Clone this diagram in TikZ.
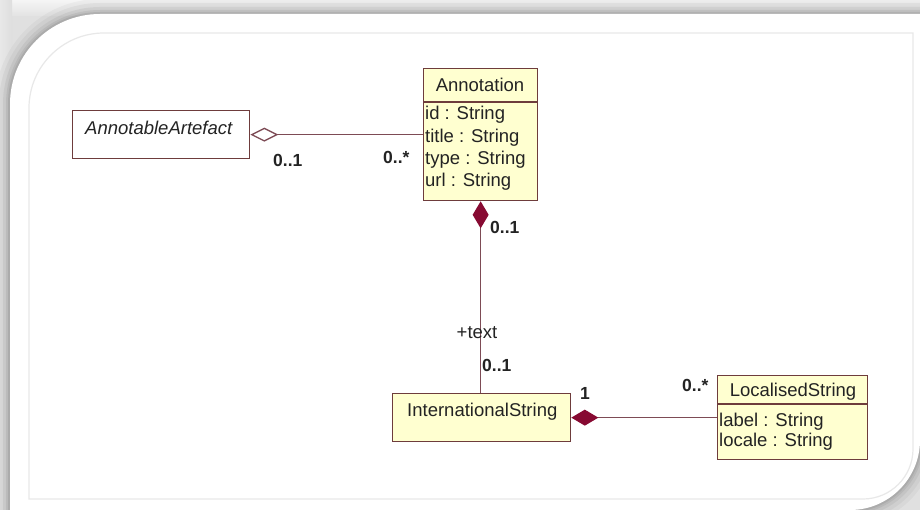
\documentclass[tikz,border=0pt]{standalone}
\usepackage{fontspec}
\setmainfont{Liberation Sans}
\usetikzlibrary{arrows.meta}
\definecolor{boxfill}{RGB}{255,255,208}
\definecolor{boxline}{RGB}{110,60,60}
\definecolor{conn}{RGB}{125,75,85}
\definecolor{dia}{RGB}{135,10,50}
\definecolor{bggray}{RGB}{224,224,224}
\definecolor{innerline}{RGB}{232,232,232}
\definecolor{txt}{RGB}{35,35,35}
\tikzset{
  umlbox/.style={draw=boxline, fill=boxfill, line width=1.3pt, inner sep=0pt, anchor=north west},
  plainbox/.style={draw=boxline, fill=white, line width=1.3pt, inner sep=0pt, anchor=north west},
  lbl/.style={font=\fontsize{18.5}{22}\selectfont, text=txt, inner sep=0pt},
  mult/.style={font=\bfseries\fontsize{17.5}{20}\selectfont, text=txt, inner sep=0pt, anchor=west},
  attr/.style={lbl, anchor=west},
  assoc/.style={draw=conn, line width=1.3pt},
  aggr/.style={assoc, {Diamond[open, length=28pt, width=14pt, fill=white, line width=1.3pt]}-},
  compo/.style={assoc, {Diamond[length=27pt, width=16pt, fill=dia, color=dia]}-}
}
\begin{document}
\begin{tikzpicture}[x=1pt,y=-1pt]
\useasboundingbox (0,0) rectangle (920,510);
% background
\fill[bggray] (0,0) rectangle (920,510);
\shade[top color=gray!8, bottom color=gray!22] (0,0) rectangle (920,16);
\shade[left color=gray!18, right color=gray!26] (0,0) rectangle (12,510);
% soft shadow of white panel
\foreach \w/\o in {30/0.03, 22/0.04, 14/0.05, 8/0.06, 4/0.07}{
  \draw[black, line width=\w pt, opacity=\o] (10,530) -- (10,104) .. controls (10,54.3) and (50.3,14) .. (100,14) -- (940,14);
  \draw[black, line width=\w pt, opacity=\o] (940,440) -- (920,440) .. controls (920,478.6) and (888.6,510) .. (850,510) -- (850,530);
}
\fill[white] (10,515) -- (10,104) .. controls (10,54.3) and (50.3,14) .. (100,14) -- (925,14) -- (925,440) -- (920,440) .. controls (920,478.6) and (888.6,510) .. (850,510) -- (850,515) -- cycle;
% inner frame
\draw[innerline, line width=1.2pt] (29,499) -- (29,108) .. controls (29,66.6) and (62.6,33) .. (104,33) -- (913,33) -- (913,449) .. controls (913,476.6) and (890.6,499) .. (863,499) -- cycle;

% AnnotableArtefact
\node[plainbox, minimum width=177pt, minimum height=48pt] (aa) at (72,110) {};
\node[attr, font=\itshape\fontsize{18.5}{22}\selectfont] (aat) at (85,128) {AnnotableArtefact};

% Annotation
\node[umlbox, minimum width=114pt, minimum height=132pt] (ann) at (423,68) {};
\draw[boxline, line width=1.3pt] (ann.west |- 0,102) -- (ann.east |- 0,102);
\node[lbl] (annh) at (480,85) {Annotation};
\node[attr] (a1) at (425,115) {id : String};
\node[attr] (a2) at (425,138) {title : String};
\node[attr] (a3) at (425,160) {type : String};
\node[attr] (a4) at (425,182) {url : String};

% InternationalString
\node[umlbox, minimum width=178pt, minimum height=48pt] (is) at (392,393) {};
\node[attr] (ist) at (407,412) {InternationalString};

% LocalisedString
\node[umlbox, minimum width=150pt, minimum height=84pt] (ls) at (717,375) {};
\draw[boxline, line width=1.3pt] (ls.west |- 0,404) -- (ls.east |- 0,404);
\node[lbl] (lsh) at (793,392) {LocalisedString};
\node[attr] (l1) at (719,422) {label : String};
\node[attr] (l2) at (719,442) {locale : String};

% connectors
\draw[aggr] (aa.east) -- (ann.west |- aa.east);
\draw[compo] (ann.south) -- (ann.south |- is.north);
\draw[compo] (is.east) -- (ls.west |- is.east);

% multiplicities and roles
\node[mult] (m1) at (273,160) {0..1};
\node[mult] (m2) at (383,157) {0..*};
\node[mult] (m3) at (490,227) {0..1};
\node[lbl] (role) at (477,333) {+text};
\node[mult] (m4) at (482,365) {0..1};
\node[mult] (m5) at (580,393) {1};
\node[mult] (m6) at (682,385) {0..*};
\end{tikzpicture}
\end{document}
